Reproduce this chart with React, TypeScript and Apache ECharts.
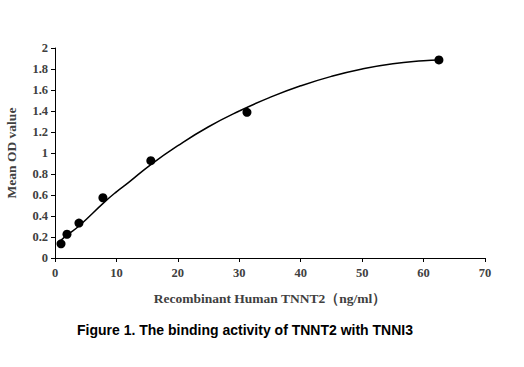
import React, { useEffect, useRef } from "react";
import * as echarts from "echarts";

const pointX = [0.98, 1.95, 3.9, 7.8, 15.6, 31.25, 62.5];
const pointY = [0.135, 0.226, 0.333, 0.574, 0.927, 1.387, 1.886];

const curveX = [1, 2, 4, 8, 10, 12, 15.6, 20, 25, 30, 35, 40, 45, 50, 55, 60, 62.5];
const curveY = [0.17, 0.22, 0.31, 0.53, 0.63, 0.72, 0.89, 1.07, 1.25, 1.4, 1.53, 1.64, 1.73, 1.8, 1.85, 1.878, 1.886];

const xTitle = "Recombinant Human TNNT2（ng/ml）";
const yTitle = "Mean OD value";
const figureTitle = "Figure 1. The binding activity of TNNT2 with TNNI3";

export default function App() {
  const ref = useRef<HTMLDivElement>(null);
  useEffect(() => {
    if (!ref.current) return;
    const chart = echarts.init(ref.current, null, { renderer: "svg" });
    const labelStyle = {
      fontFamily: "'Liberation Serif', 'Times New Roman', serif",
      fontWeight: "bold" as const,
      fontSize: 12.5,
      color: "#404040",
    };
    const nameStyle = { ...labelStyle, fontSize: 13.5 };
    chart.setOption({
      animation: false,
      backgroundColor: "#ffffff",
      grid: {
        left: 55,
        right: 39,
        top: 48,
        bottom: 109,
        containLabel: false,
        outerBoundsMode: "none",
      },
      xAxis: {
        type: "value",
        min: 0,
        max: 70,
        interval: 10,
        name: xTitle,
        nameLocation: "middle",
        nameGap: 33,
        nameTextStyle: nameStyle,
        axisLine: { lineStyle: { color: "#000", width: 1 } },
        axisTick: { show: true, length: 4, lineStyle: { color: "#000" } },
        axisLabel: { ...labelStyle, margin: 8 },
        splitLine: { show: false },
      },
      yAxis: {
        type: "value",
        min: 0,
        max: 2,
        interval: 0.2,
        name: yTitle,
        nameLocation: "middle",
        nameGap: 37,
        nameRotate: 90,
        nameTextStyle: nameStyle,
        axisLine: { show: true, lineStyle: { color: "#000", width: 1 } },
        axisTick: { show: true, length: 4, lineStyle: { color: "#000" } },
        axisLabel: { ...labelStyle, margin: 7 },
        splitLine: { show: false },
      },
      series: [
        {
          type: "line",
          data: curveX.map((x, i) => [x, curveY[i]]),
          smooth: true,
          showSymbol: false,
          lineStyle: { color: "#000", width: 1.5 },
          z: 2,
        },
        {
          type: "scatter",
          data: pointX.map((x, i) => [x, pointY[i]]),
          symbol: "circle",
          symbolSize: 9,
          itemStyle: { color: "#000", opacity: 1 },
          z: 3,
        },
      ],
      graphic: [
        {
          type: "text",
          x: 245,
          y: 330,
          style: {
            text: figureTitle,
            fontFamily: "'Liberation Sans', Arial, sans-serif",
            fontWeight: "bold",
            fontSize: 14,
            fill: "#000",
            textAlign: "center",
            textVerticalAlign: "middle",
          },
        },
      ],
    });
    return () => chart.dispose();
  }, []);
  return (
    <div
      ref={ref}
      style={{ position: "fixed", left: 0, top: 0, width: 524, height: 367 }}
    />
  );
}
